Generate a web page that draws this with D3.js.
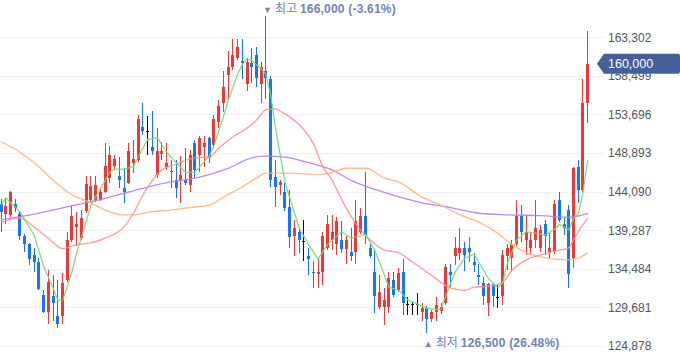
<!DOCTYPE html>
<html>
<head>
<meta charset="utf-8">
<script src="https://cdn.jsdelivr.net/npm/d3@7"></script>
<style>
  html, body { margin: 0; padding: 0; background: #fff; }
  svg { display: block; }
</style>
</head>
<body>
<div id="chart"></div>
<script>
// 일봉 [시가, 고가, 저가, 종가]
const candles = [
  [142600, 143200, 139100, 141600], [141300, 143300, 140100, 142300], [141200, 144200, 140900, 144000],
  [142600, 143200, 141600, 142100], [141300, 141700, 138100, 138600], [138600, 138800, 136600, 137600],
  [137600, 137700, 135000, 135700], [136200, 137100, 134100, 135300], [135300, 135800, 131800, 132000],
  [131200, 131800, 129000, 129100], [129100, 134300, 127600, 132800], [131100, 133700, 128000, 130200],
  [128600, 133100, 127100, 127600], [128600, 134000, 127600, 132700], [133100, 139100, 132800, 138100],
  [138100, 142300, 137800, 141100], [139700, 141600, 137300, 140100], [138300, 141800, 138100, 140800],
  [141700, 146000, 141400, 145000], [143100, 146000, 142800, 144800], [143100, 146000, 142800, 144900],
  [143100, 144500, 142900, 144000], [144000, 150100, 143900, 147300], [145800, 149800, 145200, 148700],
  [147300, 148700, 146800, 148200], [146000, 148400, 144500, 145500], [144500, 147000, 142700, 144000],
  [145200, 150100, 145000, 149200], [147700, 150500, 146400, 148200], [148000, 153600, 147800, 153100],
  [152100, 155100, 151100, 151600], [151600, 153500, 148700, 151600], [149600, 154100, 148700, 149200],
  [146200, 152000, 145800, 149200], [148800, 150300, 148000, 149200], [147200, 150100, 146800, 147700],
  [146700, 148000, 144500, 146500], [145500, 148000, 143300, 144500], [145500, 148500, 142700, 146200],
  [145500, 149500, 144900, 145200], [144900, 149300, 144000, 148700], [150100, 150500, 145800, 146800],
  [148700, 151000, 146500, 150800], [149600, 151000, 147200, 150100], [150800, 150900, 147700, 148300],
  [149900, 153600, 149500, 153100], [152800, 155500, 152000, 154800], [155100, 159100, 154000, 157100],
  [158600, 161600, 155500, 159600], [159600, 163100, 159200, 161100], [160700, 163100, 160500, 162100],
  [160400, 163100, 158100, 160100], [157500, 160700, 156600, 160200], [160100, 162000, 157600, 159600],
  [161100, 162100, 157100, 158200], [157500, 160200, 155100, 159600], [159100, 166000, 155600, 158200],
  [158100, 158500, 144700, 145500], [145900, 148000, 142200, 144700], [144900, 145500, 143700, 145300],
  [144000, 145200, 141700, 142100], [142200, 144300, 137100, 138400], [138600, 140600, 136100, 139600],
  [139100, 139600, 136500, 138100], [137900, 140600, 135500, 137900], [136100, 137100, 133700, 135700],
  [134100, 135500, 132100, 134000], [133800, 135800, 132100, 134100], [134100, 139100, 132500, 138600],
  [137100, 141200, 136800, 140100], [138100, 141200, 136800, 139100], [137600, 140900, 136200, 140400],
  [138100, 140400, 136500, 137000], [137000, 138600, 135100, 138100], [136600, 139600, 135500, 136100],
  [136600, 143100, 135100, 140400], [139100, 142100, 138800, 141100], [141100, 146500, 137600, 138700],
  [137100, 137600, 135800, 136100], [134100, 136800, 129000, 131100], [129700, 133700, 129500, 131600],
  [129700, 132100, 127500, 130600], [129700, 134100, 129000, 133300], [133100, 134100, 131000, 131200],
  [131800, 134600, 131600, 134000], [134100, 135700, 128700, 130200], [130100, 131000, 128700, 130100],
  [130100, 130400, 128700, 130100], [130100, 131500, 128700, 130100], [129100, 130200, 128000, 129600],
  [129600, 129900, 126500, 128200], [128200, 129400, 127900, 129100], [129100, 131000, 128000, 130000],
  [129200, 130200, 128900, 129700], [130200, 135100, 130000, 134700], [134100, 135100, 132200, 133700],
  [136100, 138400, 135000, 137100], [136500, 139600, 135600, 137100], [137100, 137800, 134200, 136200],
  [137100, 138400, 135300, 136600], [135300, 136500, 134100, 135000], [133700, 135100, 132500, 133500],
  [132700, 133500, 130000, 131100], [130200, 132700, 128600, 132600], [132600, 132700, 129700, 131100],
  [131000, 132500, 129600, 131000], [131100, 136800, 130000, 136200], [136100, 137600, 134300, 137100],
  [135800, 138100, 134100, 137600], [137600, 143100, 137300, 141100], [141100, 142400, 137800, 139100],
  [138100, 141100, 136200, 139100], [137100, 138900, 136200, 138100], [138100, 143100, 137100, 139600],
  [137100, 139900, 136600, 139300], [140100, 140600, 136200, 138600], [136600, 138900, 135800, 137100],
  [136600, 143100, 136300, 142600], [143100, 144000, 140300, 140600], [140100, 140800, 138700, 139600],
  [141800, 142400, 132100, 133800], [135800, 147200, 134600, 147000], [147200, 148000, 142700, 144300],
  [144300, 158100, 144000, 155100], [155100, 164100, 152600, 160000]
];

// 이동평균선 [봉 번호, 값]
const ma5 = [[0,142400],[1,143300],[4,141600],[7,138700],[9,134800],[11,132100],[12,130600],[13,130500],
  [15,134100],[16,136500],[17,138400],[19,142400],[20,143500],[21,144400],[23,146500],[24,146900],[26,146900],
  [28,147200],[29,148400],[31,150600],[33,150800],[35,149000],[37,147700],[39,146500],[41,146500],[42,147200],
  [44,148500],[45,149800],[47,153400],[48,155400],[50,158700],[51,159900],[52,160600],[53,160400],[55,159400],
  [56,158700],[57,156100],[58,152100],[60,145300],[61,143400],[63,139600],[65,137500],[67,135700],[69,137500],
  [72,139100],[74,138300],[76,138600],[77,138800],[79,136800],[80,135300],[82,132200],[84,131800],[86,130600],
  [88,130100],[90,129600],[92,129400],[93,129500],[94,131100],[96,134100],[98,135800],[100,136300],[101,135300],
  [103,133300],[105,132100],[106,132700],[107,135100],[109,138100],[111,139100],[113,138900],[115,138700],
  [117,139400],[118,140000],[119,139700],[120,139300],[121,140700],[122,141300],[123,144000],[124,148000]];
const ma20 = [[0,140300],[4,140800],[7,139700],[10,138300],[13,137000],[16,137500],[19,137700],[22,138300],
  [26,139700],[28,141400],[30,143700],[32,145500],[34,146800],[37,147500],[41,148300],[44,148400],[46,149500],
  [49,150900],[52,152000],[54,153000],[56,154300],[58,154400],[59,154100],[61,153400],[64,151800],[66,150100],
  [68,147200],[70,145500],[71,144300],[73,142000],[76,139300],[78,138100],[81,136800],[84,136500],[87,135300],
  [90,134100],[93,132800],[95,132100],[98,131800],[100,132200],[103,132300],[106,132800],[108,134300],
  [111,135600],[114,136200],[117,136700],[120,137100],[121,138100],[122,139100],[124,140800]];
const ma60 = [[0,150300],[4,149000],[8,147200],[11,145500],[15,143700],[19,142700],[22,141800],[26,141200],
  [28,141200],[32,141600],[36,141800],[40,142100],[44,142400],[47,143400],[51,144700],[54,145800],[56,146400],
  [61,146400],[67,146200],[70,146500],[73,147000],[77,147000],[81,145800],[84,145300],[89,143400],[93,142400],
  [97,141200],[101,140300],[105,138900],[108,137500],[111,136500],[114,136000],[117,135700],[120,135600],
  [122,135800],[124,136500]];
const ma120 = [[0,140600],[7,141300],[14,142200],[21,143100],[28,144200],[35,145200],[42,145900],[48,147000],
  [53,148300],[56,148500],[60,148400],[65,147700],[70,146800],[74,145500],[81,144000],[89,142700],[95,142100],
  [101,141400],[107,141200],[114,141100],[120,140900],[124,141400]];

const yTicks = [124878, 129681, 134484, 139287, 144090, 148893, 153696, 158499, 163302];
const lastPrice = 160000;
// [봉 번호, 가격, 라벨, 등락률]
const highMark = [56, 166000, "최고", "-3.61%"];
const lowMark = [90, 126500, "최저", "26.48%"];

const W = 680, H = 358;
const fontNum = "'Liberation Sans', Arial, 'Noto Sans CJK KR', sans-serif";

const svg = d3.select("#chart").append("svg")
  .attr("width", W)
  .attr("height", H);

const x = d3.scaleLinear().domain([0, candles.length - 1]).range([1, 587.7]);
const y = d3.scaleLinear().domain([124878, 163302]).range([346, 37.3]);

// 가로 격자
svg.append("g")
  .selectAll("line")
  .data(yTicks)
  .enter().append("line")
  .attr("x1", 0)
  .attr("x2", 603)
  .attr("y1", d => Math.round(y(d)) + 0.5)
  .attr("y2", d => Math.round(y(d)) + 0.5)
  .attr("stroke", "#f0f0f0")
  .attr("stroke-width", 1);

// 오른쪽 가격축
const axis = svg.append("g")
  .attr("transform", "translate(608,0)")
  .call(d3.axisRight(y).tickValues(yTicks).tickSize(0).tickPadding(0).tickFormat(d3.format(",")));
axis.select(".domain").remove();
axis.selectAll("text")
  .attr("fill", "#555")
  .style("font-size", "12px")
  .style("font-family", fontNum);

// 캔들
const candleColor = d => d[3] > d[0] ? "#ec3838" : (d[3] < d[0] ? "#1676ec" : "#111");

const cg = svg.append("g").attr("shape-rendering", "crispEdges");
const c = cg.selectAll("g")
  .data(candles)
  .enter().append("g");

c.append("line")
  .attr("x1", (d, i) => Math.floor(x(i)) + 0.5)
  .attr("x2", (d, i) => Math.floor(x(i)) + 0.5)
  .attr("y1", d => y(d[1]))
  .attr("y2", d => y(d[2]))
  .attr("stroke", candleColor)
  .attr("stroke-width", 1);

c.append("rect")
  .attr("x", (d, i) => Math.floor(x(i)) - 1)
  .attr("width", 3)
  .attr("y", d => y(Math.max(d[0], d[3])))
  .attr("height", d => Math.max(1, y(Math.min(d[0], d[3])) - y(Math.max(d[0], d[3]))))
  .attr("fill", candleColor);

// 이동평균선
const line = d3.line()
  .x(d => x(d[0]))
  .y(d => y(d[1]));

const maList = [
  { data: ma120, color: "#b57bf3", curve: d3.curveMonotoneX },
  { data: ma60, color: "#ffb47a", curve: d3.curveMonotoneX },
  { data: ma20, color: "#ff8f8f", curve: d3.curveMonotoneX },
  { data: ma5, color: "#77d86f", curve: d3.curveLinear }
];
maList.forEach(m => {
  svg.append("path")
    .datum(m.data)
    .attr("fill", "none")
    .attr("stroke", m.color)
    .attr("stroke-width", 1.3)
    .attr("stroke-opacity", 0.9)
    .attr("d", line.curve(m.curve));
});

// 최고/최저 표시
function mark(info, ty, arrow) {
  const t = svg.append("text")
    .attr("x", x(info[0]) - 3)
    .attr("y", ty)
    .attr("fill", "#7182b5")
    .style("font-family", fontNum)
    .style("font-size", "12px");
  t.append("tspan").style("font-size", "9px").text(arrow);
  t.append("tspan").attr("dx", 3).style("font-family", "'Noto Sans CJK KR', sans-serif").text(info[2]);
  t.append("tspan").attr("dx", 3).style("font-weight", "bold").style("letter-spacing", "0.2px")
    .text(d3.format(",")(info[1]) + " (" + info[3] + ")");
}
mark(highMark, 13, "▼");
mark(lowMark, 347, "▲");

// 현재가 표시
const py = y(lastPrice);
svg.append("path")
  .attr("d", `M597,${py} L604,${py - 10} L678,${py - 10} Q680,${py - 10} 680,${py - 8} L680,${py + 8} Q680,${py + 10} 678,${py + 10} L604,${py + 10} Z`)
  .attr("fill", "#44609c");
svg.append("text")
  .attr("x", 608)
  .attr("y", py)
  .attr("dy", "0.36em")
  .attr("fill", "#fff")
  .style("font-family", fontNum)
  .style("font-size", "12.5px")
  .text(d3.format(",")(lastPrice));
</script>
</body>
</html>
